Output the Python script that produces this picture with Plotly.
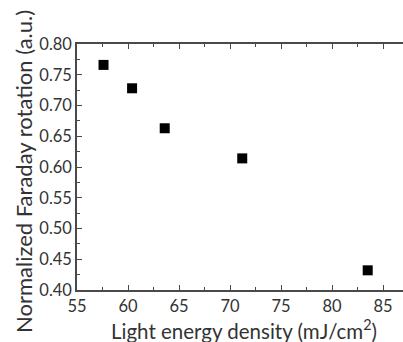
import plotly.graph_objects as go

energy_density = [57.6, 60.4, 63.6, 71.2, 83.5]
faraday_rotation = [0.766, 0.728, 0.663, 0.614, 0.432]

x_ticks = [55, 60, 65, 70, 75, 80, 85]
y_ticks = [0.40, 0.45, 0.50, 0.55, 0.60, 0.65, 0.70, 0.75, 0.80]

font_family = "Lato, 'Open Sans', sans-serif"
axis_color = "#4a4a4a"
text_color = "#333"

W, H = 403, 342
L, R, T, B = 77, 0, 44, 52
pw, ph = W - L - R, H - T - B

fig = go.Figure()
fig.add_trace(go.Scatter(
    x=energy_density, y=faraday_rotation, mode="markers",
    marker=dict(symbol="square", size=10, color="black"),
    showlegend=False,
))

fig.update_layout(
    width=W, height=H,
    margin=dict(l=L, r=R, t=T, b=B, autoexpand=False),
    paper_bgcolor="white", plot_bgcolor="white",
    font=dict(family=font_family, color=text_color),
)
fig.update_xaxes(
    range=[55, 86.96], tickvals=x_ticks, ticktext=[str(v) for v in x_ticks],
    ticks="inside", ticklen=5, tickwidth=1.2, tickcolor=axis_color,
    minor=dict(ticks="inside", ticklen=3, tickwidth=1, tickcolor=axis_color, dtick=2.5),
    showline=True, linecolor=axis_color, linewidth=1.5, mirror="ticks",
    showgrid=False, zeroline=False, automargin=False,
    tickfont=dict(size=16.5, family=font_family, color=text_color),
)
fig.update_yaxes(
    range=[0.40, 0.80], tickvals=y_ticks, ticktext=[f"{v:.2f}" for v in y_ticks],
    ticks="inside", ticklen=5, tickwidth=1.2, tickcolor=axis_color,
    minor=dict(ticks="inside", ticklen=3, tickwidth=1, tickcolor=axis_color, dtick=0.025),
    showline=True, linecolor=axis_color, linewidth=1.5, mirror=False,
    showgrid=False, zeroline=False, automargin=False,
    tickfont=dict(size=16.5, family=font_family, color=text_color),
)
fig.add_annotation(
    text="Light energy density (mJ/cm<sup>2</sup>)", xref="paper", yref="paper",
    x=(244 - L) / pw, y=(H - B - 329) / ph, xanchor="center", yanchor="middle",
    showarrow=False, font=dict(size=20.5, family=font_family, color=text_color),
)
fig.add_annotation(
    text="Normalized Faraday rotation (a.u.)", xref="paper", yref="paper",
    x=(23 - L) / pw, y=(H - B - 172) / ph, xanchor="center", yanchor="middle",
    textangle=-90, showarrow=False, font=dict(size=22, family=font_family, color=text_color),
)

fig.write_html(
    "out.html",
    config={"displayModeBar": False},
    post_script="document.body.style.margin='0';document.body.style.overflow='hidden';",
)
